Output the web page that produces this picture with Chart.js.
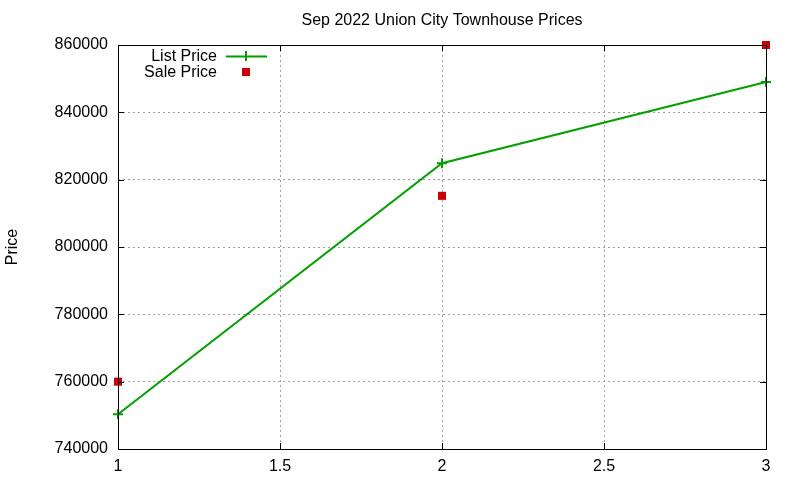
<!DOCTYPE html>
<html>
<head>
<meta charset="utf-8">
<script src="https://cdn.jsdelivr.net/npm/chart.js@4.4.0/dist/chart.umd.min.js"></script>
<style>
  html, body { margin: 0; padding: 0; background: #ffffff; }
  #wrap { width: 800px; height: 480px; }
</style>
</head>
<body>
<div id="wrap"><canvas id="priceChart" width="800" height="480"></canvas></div>
<script>
const chartTitle = 'Sep 2022 Union City Townhouse Prices';
const yLabel = 'Price';
const xValues = [1, 2, 3];
const listPrices = [750300, 824900, 849000];
const salePrices = [760000, 815200, 860000];

const green = '#00a000';
const red = '#cc0000';
const fontFamily = '"Liberation Sans", Arial, sans-serif';

// gnuplot style frame with inward tick marks on all four sides
const framePlugin = {
    id: 'frame',
    afterDatasetsDraw(chart) {
        const { ctx, chartArea: a, scales } = chart;
        ctx.save();
        ctx.strokeStyle = '#000000';
        ctx.lineWidth = 1;
        ctx.strokeRect(a.left + 0.5, a.top + 0.5, a.right - a.left, a.bottom - a.top);
        ctx.beginPath();
        scales.x.ticks.forEach(t => {
            const px = Math.round(scales.x.getPixelForValue(t.value)) + 0.5;
            ctx.moveTo(px, a.bottom); ctx.lineTo(px, a.bottom - 6);
            ctx.moveTo(px, a.top); ctx.lineTo(px, a.top + 6);
        });
        scales.y.ticks.forEach(t => {
            const py = Math.round(scales.y.getPixelForValue(t.value)) + 0.5;
            ctx.moveTo(a.left, py); ctx.lineTo(a.left + 6, py);
            ctx.moveTo(a.right, py); ctx.lineTo(a.right - 6, py);
        });
        ctx.stroke();
        ctx.restore();
    }
};

// title centred over the plot area, like gnuplot does it
const titlePlugin = {
    id: 'plotTitle',
    afterDraw(chart) {
        const { ctx, chartArea: a } = chart;
        ctx.save();
        ctx.font = '16px ' + fontFamily;
        ctx.fillStyle = '#000000';
        ctx.textAlign = 'center';
        ctx.textBaseline = 'middle';
        ctx.fillText(chartTitle, (a.left + a.right) / 2, 21);
        ctx.restore();
    }
};

// key in the top-left corner, text first then sample
const keyPlugin = {
    id: 'key',
    afterDraw(chart) {
        const { ctx } = chart;
        const textRight = 217;
        const sampleX = 246;
        ctx.save();
        ctx.font = '16px ' + fontFamily;
        ctx.fillStyle = '#000000';
        ctx.textAlign = 'right';
        ctx.textBaseline = 'middle';
        chart.data.datasets.forEach((ds, i) => {
            const y = 56 + i * 16;
            ctx.fillText(ds.label, textRight, y + 1);
            if (ds.showLine !== false) {
                ctx.strokeStyle = ds.borderColor;
                ctx.lineWidth = 2;
                ctx.beginPath();
                ctx.moveTo(226, y + 0.5); ctx.lineTo(267, y + 0.5);
                ctx.moveTo(sampleX, y - 5); ctx.lineTo(sampleX, y + 5);
                ctx.stroke();
            } else {
                ctx.fillStyle = ds.backgroundColor;
                ctx.fillRect(sampleX - 4, y - 4, 8, 8);
                ctx.fillStyle = '#000000';
            }
        });
        ctx.restore();
    }
};

const ctx = document.getElementById('priceChart').getContext('2d');
const priceChart = new Chart(ctx, {
    type: 'line',
    data: {
        datasets: [{
            label: 'List Price',
            data: xValues.map((x, i) => ({ x: x, y: listPrices[i] })),
            borderColor: green,
            backgroundColor: green,
            borderWidth: 2,
            pointStyle: 'cross',
            pointRadius: 5,
            pointBorderWidth: 2,
            pointBorderColor: green,
            fill: false,
            tension: 0,
            clip: false,
        }, {
            label: 'Sale Price',
            data: xValues.map((x, i) => ({ x: x, y: salePrices[i] })),
            showLine: false,
            borderColor: red,
            backgroundColor: red,
            pointStyle: 'rect',
            pointRadius: 5.7,
            pointBorderWidth: 0,
            clip: false,
        }],
    },
    options: {
        responsive: false,
        animation: false,
        layout: { padding: { left: 0, right: 34, top: 45, bottom: 0 } },
        plugins: {
            legend: { display: false },
            tooltip: { enabled: false },
            title: { display: false },
        },
        scales: {
            x: {
                type: 'linear',
                min: 1,
                max: 3,
                ticks: {
                    stepSize: 0.5,
                    color: '#000000',
                    font: { family: fontFamily, size: 16 },
                    padding: 8,
                    maxRotation: 0,
                    callback: v => String(v),
                },
                grid: { color: '#a0a0a0', drawTicks: false },
                border: { display: false, dash: [2, 3] },
                afterFit(scale) { scale.height = 31; },
            },
            y: {
                min: 740000,
                max: 860000,
                ticks: {
                    stepSize: 20000,
                    color: '#000000',
                    font: { family: fontFamily, size: 16 },
                    padding: 10,
                    callback: v => String(v),
                },
                grid: { color: '#a0a0a0', drawTicks: false },
                border: { display: false, dash: [2, 3] },
                title: {
                    display: true,
                    text: yLabel,
                    color: '#000000',
                    font: { family: fontFamily, size: 16 },
                    padding: { top: 3, bottom: 0 },
                },
                afterFit(scale) { scale.width = 118; },
            },
        },
    },
    plugins: [framePlugin, titlePlugin, keyPlugin],
});
</script>
</body>
</html>
